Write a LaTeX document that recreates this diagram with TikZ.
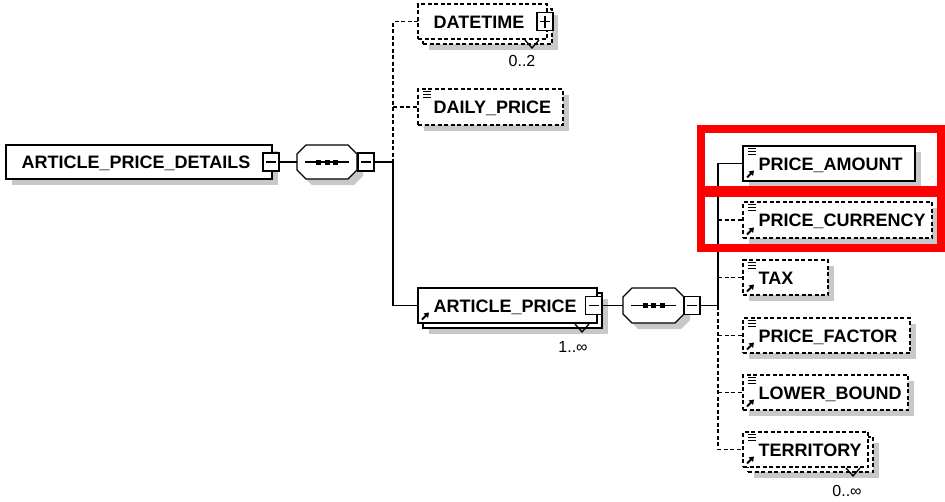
\documentclass[tikz,border=0pt]{standalone}
\usepackage{fontspec}
\setmainfont{Liberation Sans}
\usetikzlibrary{calc,arrows.meta}
\definecolor{shadowc}{RGB}{200,200,200}
\definecolor{redc}{RGB}{255,0,0}
% single element: name, x, y(top), width, height, style, text
\newcommand\elem[7]{%
  \fill[shadowc] (#2+6,#3+6) rectangle ++(#4,#5);
  \node[#6, minimum width=#4pt, minimum height=#5pt] (#1) at (#2,#3) {};
  \node[lbl] (#1t) at ([xshift=15pt,yshift=-6.5pt]#1.west) {#7};}
% repeated element (stacked)
\newcommand\melem[7]{%
  \fill[shadowc] (#2+11,#3+11) rectangle ++(#4,#5);
  \node[#6, minimum width=#4pt, minimum height=#5pt] (#1b) at (#2+5,#3+5) {};
  \draw (#1b.south east) ++(-27,-4) -- ++(7,8) -- ++(7,-8);
  \node[#6, minimum width=#4pt, minimum height=#5pt] (#1) at (#2,#3) {};
  \node[lbl] (#1t) at ([xshift=15pt,yshift=-6.5pt]#1.west) {#7};}
% sequence octagon: name, x, y, w, h
\newcommand\octa[5]{%
  \begin{scope}[shift={(#2,#3)}]
    \fill[shadowc] (15,6) -- (#4-3,6) -- (#4+6,15) -- (#4+6,#5-3) -- (#4-3,#5+6) -- (15,#5+6) -- (6,#5-3) -- (6,15) -- cycle;
    \draw[fill=white] (9,0) -- (#4-9,0) -- (#4,9) -- (#4,#5-9) -- (#4-9,#5) -- (9,#5) -- (0,#5-9) -- (0,9) -- cycle;
    \node[inner sep=0pt, outer sep=0pt, minimum width=#4pt, minimum height=#5pt, anchor=north west] (#1) at (0,0) {};
    \draw (8,#5/2) -- (#4-8,#5/2);
    \foreach \d in {-8.5,0,8.5} \fill (#4/2+\d-2.5,#5/2-2.5) rectangle ++(5,5);
  \end{scope}}
\newcommand\simplicon[1]{%
  \foreach \k in {2,5,8} \draw[line width=0.9pt] ([xshift=5pt,yshift=-\k*1pt]#1.north west) -- ++(8pt,0);}
\newcommand\refarrow[1]{%
  \draw[line width=2pt, -{Triangle[length=4.5pt,width=6pt]}] ([xshift=4pt,yshift=3.5pt]#1.south west) -- ([xshift=11pt,yshift=10.5pt]#1.south west);}
\begin{document}
\begin{tikzpicture}[x=1pt,y=-1pt, line width=1.3pt,
  box/.style={draw, fill=white, inner sep=0pt, outer sep=0pt, anchor=north west},
  optbox/.style={box, dash pattern=on 4pt off 2.5pt},
  optline/.style={dash pattern=on 4pt off 2.5pt},
  lbl/.style={font=\bfseries\fontsize{18}{20}\selectfont, anchor=base west, inner sep=0pt},
  card/.style={font=\fontsize{16}{18}\selectfont, inner sep=0pt},
  minus/.style={draw, fill=white, inner sep=0pt, outer sep=0pt, minimum width=16pt, minimum height=18pt,
    path picture={\draw ([xshift=3pt]path picture bounding box.west) -- ([xshift=-3pt]path picture bounding box.east);}},
  plus/.style={draw, fill=white, inner sep=0pt, outer sep=0pt, minimum width=16pt, minimum height=18pt,
    path picture={\draw ([xshift=3pt]path picture bounding box.west) -- ([xshift=-3pt]path picture bounding box.east);
      \draw ([yshift=-3pt]path picture bounding box.north) -- ([yshift=3pt]path picture bounding box.south);}},
  redbox/.style={draw=redc, line width=8pt}]
\useasboundingbox (0,0) rectangle (945,501);

% root
\elem{pd}{6}{145}{266}{34}{box}{ARTICLE\_PRICE\_DETAILS}
\node[minus] (pdm) at (271,162) {};
\octa{seq1}{297}{145}{60}{34}
\node[minus] (seq1m) at (366,162) {};
\coordinate (j1) at (393,162);

% first level children
\melem{dt}{418}{4}{129}{35}{optbox}{DATETIME}
\node[plus] (dtp) at (545,21.5) {};
\node[card] (dtc) at (522,61) {0..2};

\elem{dp}{418}{89}{145}{36}{optbox}{DAILY\_PRICE}
\simplicon{dp}

\melem{ap}{418}{288}{179}{35}{box}{ARTICLE\_PRICE}
\refarrow{ap}
\node[minus] (apm) at (593.5,305.5) {};
\node[card] (apc) at (573,347) {1..∞};
\octa{seq2}{623}{288}{61}{35}
\node[minus] (seq2m) at (692,305.5) {};
\coordinate (j2) at (718,305.5);

% second level children
\elem{pa}{743}{146}{172}{35}{box}{PRICE\_AMOUNT}
\elem{pc}{743}{202}{189}{36}{optbox}{PRICE\_CURRENCY}
\elem{tx}{743}{260}{85}{35}{optbox}{TAX}
\elem{pf}{743}{318}{167}{35}{optbox}{PRICE\_FACTOR}
\elem{lb}{743}{375}{165}{35}{optbox}{LOWER\_BOUND}
\melem{te}{743}{432}{125}{35}{optbox}{TERRITORY}
\node[card] (tec) at (847,491) {0..∞};
\foreach \n in {pa,pc,tx,pf,lb,te} {\simplicon{\n}\refarrow{\n}}

% connectors
\draw (pdm.east) -- (seq1.west);
\draw (seq1m.east) -- (j1);
\draw[optline] (dt.west) -| (j1);
\draw[optline] (dp.west -| j1) -- (dp.west);
\draw (j1) |- (ap.west);
\draw (apm.east) -- (seq2.west);
\draw (seq2m.east) -- (j2);
\draw (j2) |- (pa.west);
\draw[optline] (j2) |- (te.west);
\foreach \n in {pc,tx,pf,lb} \draw[optline] (\n.west -| j2) -- (\n.west);

% highlight frames
\draw[redbox] (701,129) rectangle (941,189.5);
\draw[redbox] (701,192.5) rectangle (941,248);
\end{tikzpicture}
\end{document}
